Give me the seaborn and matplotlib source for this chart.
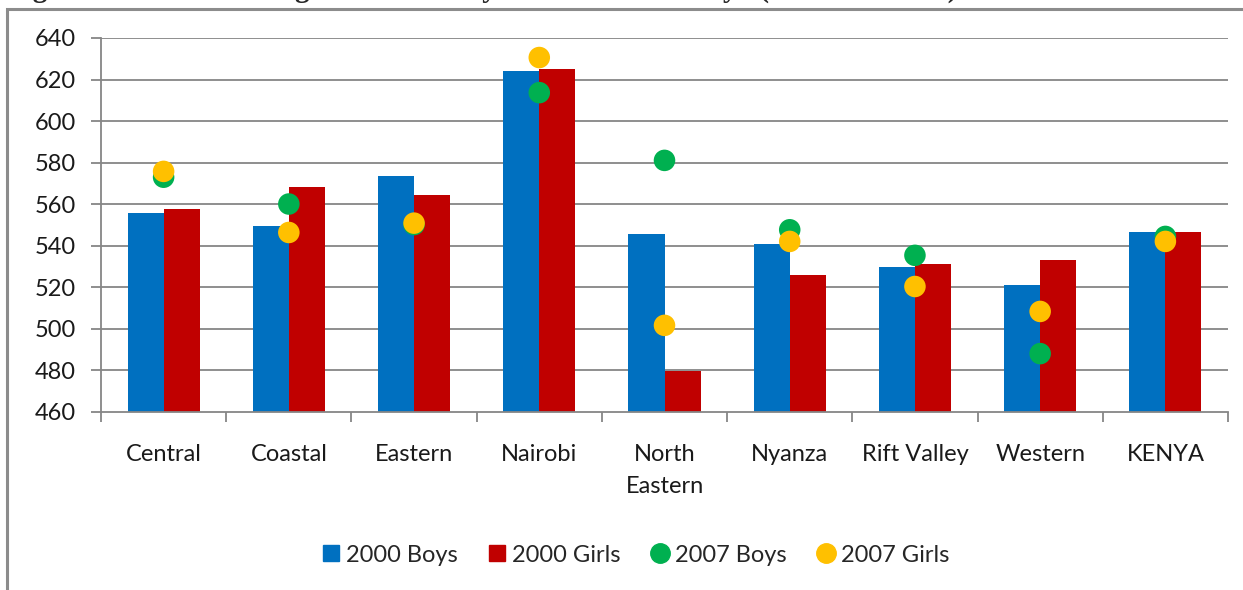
import numpy as np
import pandas as pd
import matplotlib
matplotlib.use("Agg")
import matplotlib.pyplot as plt
from matplotlib.lines import Line2D
from matplotlib.patches import Rectangle
import seaborn as sns

# Data
regions = ["Central", "Coastal", "Eastern", "Nairobi", "North\nEastern",
           "Nyanza", "Rift Valley", "Western", "KENYA"]
boys_2000 = [555.8, 549.3, 573.7, 623.9, 545.8, 540.7, 529.8, 521.1, 546.4]
girls_2000 = [557.7, 568.1, 564.4, 624.9, 479.9, 525.9, 531.0, 533.0, 546.4]
boys_2007 = [573.0, 560.1, 550.2, 613.7, 581.1, 547.7, 535.4, 488.1, 544.5]
girls_2007 = [575.8, 546.4, 550.9, 630.6, 501.7, 542.1, 520.4, 508.4, 542.1]
yticks = [460, 480, 500, 520, 540, 560, 580, 600, 620, 640]

bar_names = ["2000 Boys", "2000 Girls"]
dot_names = ["2007 Boys", "2007 Girls"]
bar_colors = ["#0070C0", "#C00000"]
dot_colors = ["#00B050", "#FFC000"]

bars = pd.DataFrame({
    "region": regions * 2,
    "score": boys_2000 + girls_2000,
    "series": [bar_names[0]] * len(regions) + [bar_names[1]] * len(regions),
})
dots = pd.DataFrame({
    "region": regions * 2,
    "score": boys_2007 + girls_2007,
    "series": [dot_names[0]] * len(regions) + [dot_names[1]] * len(regions),
})

sns.set_style("white")
plt.rcParams["font.family"] = ["Lato", "DejaVu Sans"]

fig = plt.figure(figsize=(12.43, 5.90), dpi=100)
ax = fig.add_axes([101 / 1243, 1 - 412 / 590, 1127 / 1243, 374 / 590])

grid_col = "#868686"
for y in yticks[1:]:
    ax.axhline(y, color=grid_col, lw=1.3, zorder=0)

sns.barplot(data=bars, x="region", y="score", hue="series", order=regions,
            hue_order=bar_names, palette=bar_colors, width=0.576,
            saturation=1, linewidth=0, errorbar=None, legend=False, ax=ax,
            zorder=2)
sns.stripplot(data=dots, x="region", y="score", hue="series", order=regions,
              hue_order=dot_names, palette=dot_colors, jitter=False,
              dodge=False, size=15.5, linewidth=0, legend=False, ax=ax,
              zorder=3)

ax.set_ylim(460, 640)
ax.set_xlim(-0.5, len(regions) - 0.5)
ax.set_yticks(yticks)
ax.set_xlabel("")
ax.set_ylabel("")

# ticks between categories, labels centred
ax.set_xticks(np.arange(len(regions)))
ax.set_xticklabels(regions, fontsize=17, color="#1a1a1a", linespacing=1.65)
ax.set_xticks(np.arange(len(regions) + 1) - 0.5, minor=True)
ax.tick_params(axis="x", which="major", length=0, pad=23)
ax.tick_params(axis="x", which="minor", length=7, width=1.3, color=grid_col,
               direction="out", bottom=True)
ax.tick_params(axis="y", length=7, width=1.3, color=grid_col, pad=11,
               labelsize=17, labelcolor="#1a1a1a", left=True)

for side in ["top", "right"]:
    ax.spines[side].set_visible(False)
for side in ["left", "bottom"]:
    ax.spines[side].set_color(grid_col)
    ax.spines[side].set_linewidth(1.3)
ax.set_facecolor("none")

handles = [
    Line2D([], [], ls="none", marker="s", ms=11, color=bar_colors[0]),
    Line2D([], [], ls="none", marker="s", ms=11, color=bar_colors[1]),
    Line2D([], [], ls="none", marker="o", ms=14, color=dot_colors[0]),
    Line2D([], [], ls="none", marker="o", ms=14, color=dot_colors[1]),
]
fig.legend(handles, bar_names + dot_names, loc="center",
           bbox_to_anchor=(636 / 1243, 1 - 555 / 590), ncol=4, frameon=False,
           fontsize=17, handlelength=0.7, handletextpad=0.3,
           columnspacing=1.3)

# chart frame (extends past the right and bottom edge of the crop)
fig.patches.append(Rectangle((7 / 1243, -0.1), 1.2, 1 - 9 / 590 + 0.1,
                             transform=fig.transFigure, fill=False,
                             edgecolor="#8C8C8C", lw=2.2))

# caption above the chart, cut off by the top edge as in the source
fig.text(7 / 1243, 1 + 3 / 590, "Figure 1: Mean Reading Scores for Boys and Girls in Kenya (2000 and 2007)",
         family=["Liberation Serif", "DejaVu Serif"], weight="bold",
         fontsize=21, va="baseline", ha="left")

fig.savefig("out.png", dpi=100)
